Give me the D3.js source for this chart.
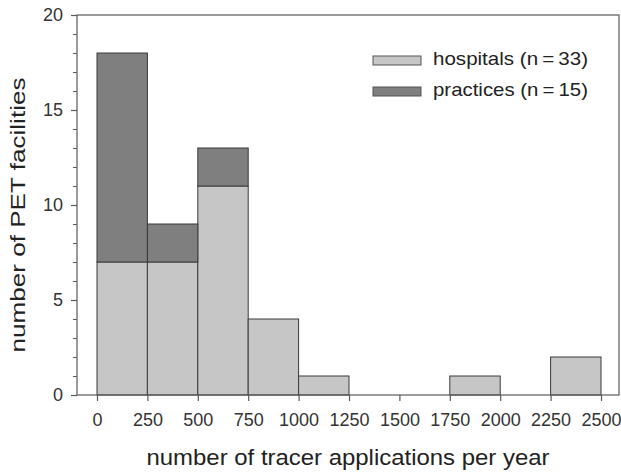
<!DOCTYPE html>
<html>
<head>
<meta charset="utf-8">
<script src="https://cdn.jsdelivr.net/npm/d3@7"></script>
<style>
  html, body { margin: 0; padding: 0; background: #fff; }
  svg { display: block; font-family: "Liberation Sans", Arial, Helvetica, sans-serif; }
</style>
</head>
<body>
<div id="chart"></div>
<script>
// Bin edges of tracer applications per year (bin width 250)
const binStarts = [0, 250, 500, 750, 1000, 1250, 1500, 1750, 2000, 2250];
const binWidth = 250;
// Facilities per bin
const hospitals = [7, 7, 11, 4, 1, 0, 0, 1, 0, 2];
const practices = [11, 2, 2, 0, 0, 0, 0, 0, 0, 0];
const seriesNames = ["hospitals (n\u2009=\u200933)", "practices (n\u2009=\u200915)"];
const xTicks = [0, 250, 500, 750, 1000, 1250, 1500, 1750, 2000, 2250, 2500];
const yTicks = [0, 5, 10, 15, 20];

const W = 621, H = 473;
const frame = { left: 77, right: 619, top: 15, bottom: 395 };
const FONT = "Liberation Sans, Arial, sans-serif";

const svg = d3.select("#chart").append("svg")
  .attr("width", W).attr("height", H);

const x = d3.scaleLinear().domain([0, 2500]).range([97, 601]);
const y = d3.scaleLinear().domain([0, 20]).range([frame.bottom, frame.top]);

const colors = ["#c6c6c6", "#7f7f7f"];

const rows = binStarts.map((s, i) => ({ start: s, hospitals: hospitals[i], practices: practices[i] }));
const stack = d3.stack().keys(["hospitals", "practices"])(rows);

stack.forEach((layer, li) => {
  svg.append("g")
    .selectAll("rect")
    .data(layer.filter(d => d[1] > d[0]))
    .join("rect")
    .attr("x", d => x(d.data.start))
    .attr("width", d => x(d.data.start + binWidth) - x(d.data.start))
    .attr("y", d => y(d[1]))
    .attr("height", d => y(d[0]) - y(d[1]))
    .attr("fill", colors[li])
    .attr("stroke", "#3a3a3a")
    .attr("stroke-width", 1);
});

// Frame
const frameColor = "#5a5a5a";
svg.append("rect")
  .attr("x", frame.left).attr("y", frame.top)
  .attr("width", frame.right - frame.left).attr("height", frame.bottom - frame.top)
  .attr("fill", "none").attr("stroke", frameColor).attr("stroke-width", 1.2);

// X axis
const xAxis = svg.append("g")
  .attr("transform", `translate(0,${frame.bottom})`)
  .call(d3.axisBottom(x).tickValues(xTicks).tickSize(6).tickPadding(12).tickFormat(d3.format("d")));
xAxis.select(".domain").remove();
xAxis.selectAll("line").attr("stroke", frameColor).attr("stroke-width", 1.2);
xAxis.selectAll("text").attr("font-size", 18).attr("fill", "#333").attr("font-family", FONT);

// Y axis: major ticks with labels, minor ticks each unit
const yMinor = d3.range(0, 21).filter(v => v % 5 !== 0);
svg.append("g")
  .attr("transform", `translate(${frame.left},0)`)
  .call(d3.axisLeft(y).tickValues(yMinor).tickSize(4).tickFormat(""))
  .call(g => g.select(".domain").remove())
  .selectAll("line").attr("stroke", frameColor).attr("stroke-width", 1);
const yAxis = svg.append("g")
  .attr("transform", `translate(${frame.left},0)`)
  .call(d3.axisLeft(y).tickValues(yTicks).tickSize(6).tickPadding(8));
yAxis.select(".domain").remove();
yAxis.selectAll("line").attr("stroke", frameColor).attr("stroke-width", 1.2);
yAxis.selectAll("text").attr("font-size", 18).attr("fill", "#333").attr("font-family", FONT);

// Axis titles
svg.append("text")
  .attr("x", (frame.left + frame.right) / 2).attr("y", 465)
  .attr("text-anchor", "middle").attr("font-size", 22).attr("fill", "#222")
  .attr("textLength", 403).attr("lengthAdjust", "spacingAndGlyphs")
  .text("number of tracer applications per year");
svg.append("text")
  .attr("transform", "translate(25,215) rotate(-90)")
  .attr("text-anchor", "middle").attr("font-size", 21).attr("fill", "#222")
  .attr("textLength", 275).attr("lengthAdjust", "spacingAndGlyphs")
  .text("number of PET facilities");

// Legend
const legend = svg.append("g").attr("transform", "translate(373,56)");
seriesNames.forEach((name, i) => {
  const g = legend.append("g").attr("transform", `translate(0,${i * 31})`);
  g.append("rect").attr("width", 48).attr("height", 9)
    .attr("fill", colors[i]).attr("stroke", "#555").attr("stroke-width", 1);
  g.append("text").attr("x", 60).attr("y", 8.5)
    .attr("font-size", 19).attr("fill", "#222")
    .attr("textLength", 155).attr("lengthAdjust", "spacingAndGlyphs")
    .text(name);
});
</script>
</body>
</html>
